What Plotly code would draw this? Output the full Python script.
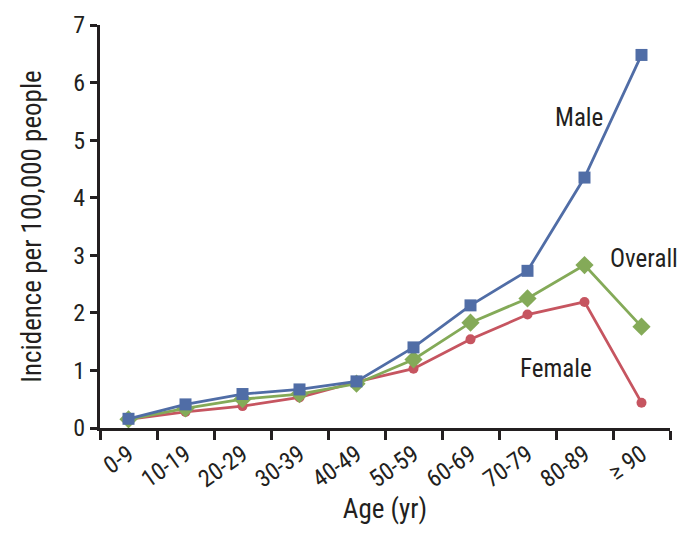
import plotly.graph_objects as go

ages = ["0-9", "10-19", "20-29", "30-39", "40-49", "50-59", "60-69", "70-79", "80-89", "≥ 90"]
male = [0.16, 0.41, 0.59, 0.67, 0.81, 1.40, 2.13, 2.73, 4.35, 6.48]
overall = [0.15, 0.34, 0.50, 0.59, 0.77, 1.19, 1.83, 2.25, 2.83, 1.76]
female = [0.15, 0.28, 0.38, 0.53, 0.80, 1.03, 1.54, 1.97, 2.19, 0.44]

FONT = "Liberation Sans Narrow, Roboto Condensed, Arial Narrow, Liberation Sans, sans-serif"
BLUE = "#506DA6"
GREEN = "#84AA58"
RED = "#C65560"

fig = go.Figure()
fig.add_trace(go.Scatter(x=ages, y=female, mode="lines+markers", name="Female",
                         line=dict(color=RED, width=2.8),
                         marker=dict(symbol="circle", size=10, color=RED)))
fig.add_trace(go.Scatter(x=ages, y=overall, mode="lines+markers", name="Overall",
                         line=dict(color=GREEN, width=2.8),
                         marker=dict(symbol="diamond", size=14, color=GREEN)))
fig.add_trace(go.Scatter(x=ages, y=male, mode="lines+markers", name="Male",
                         line=dict(color=BLUE, width=2.8),
                         marker=dict(symbol="square", size=12, color=BLUE)))

fig.add_annotation(x=7.9, y=5.4, text="Male", showarrow=False,
                   font=dict(family=FONT, size=25, color="#231F20"))
fig.add_annotation(x=9.05, y=2.95, text="Overall", showarrow=False,
                   font=dict(family=FONT, size=25, color="#231F20"))
fig.add_annotation(x=7.5, y=1.04, text="Female", showarrow=False,
                   font=dict(family=FONT, size=25, color="#231F20"))

fig.update_layout(
    width=686, height=528,
    margin=dict(l=92, r=24, t=17, b=108),
    paper_bgcolor="white", plot_bgcolor="white",
    showlegend=False,
    font=dict(family=FONT, size=24, color="#231F20"),
)
fig.update_xaxes(
    type="category", tickson="boundaries", range=[-0.5, 9.5], automargin=False,
    showline=True, linecolor="#231F20", linewidth=3,
    ticks="outside", ticklen=9, tickwidth=3, tickcolor="#231F20",
    tickangle=-35, showgrid=False, zeroline=False,
    tickfont=dict(family=FONT, size=24),
    title=dict(text="Age (yr)", font=dict(family=FONT, size=27), standoff=4),
)
fig.update_yaxes(
    range=[0, 7], dtick=1, automargin=False,
    showline=True, linecolor="#231F20", linewidth=3,
    ticks="outside", ticklen=7, tickwidth=3, tickcolor="#231F20",
    showgrid=False, zeroline=False,
    tickfont=dict(family=FONT, size=24),
    title=dict(text="Incidence per 100,000 people", font=dict(family=FONT, size=27), standoff=24),
)

fig.write_html("out.html")
